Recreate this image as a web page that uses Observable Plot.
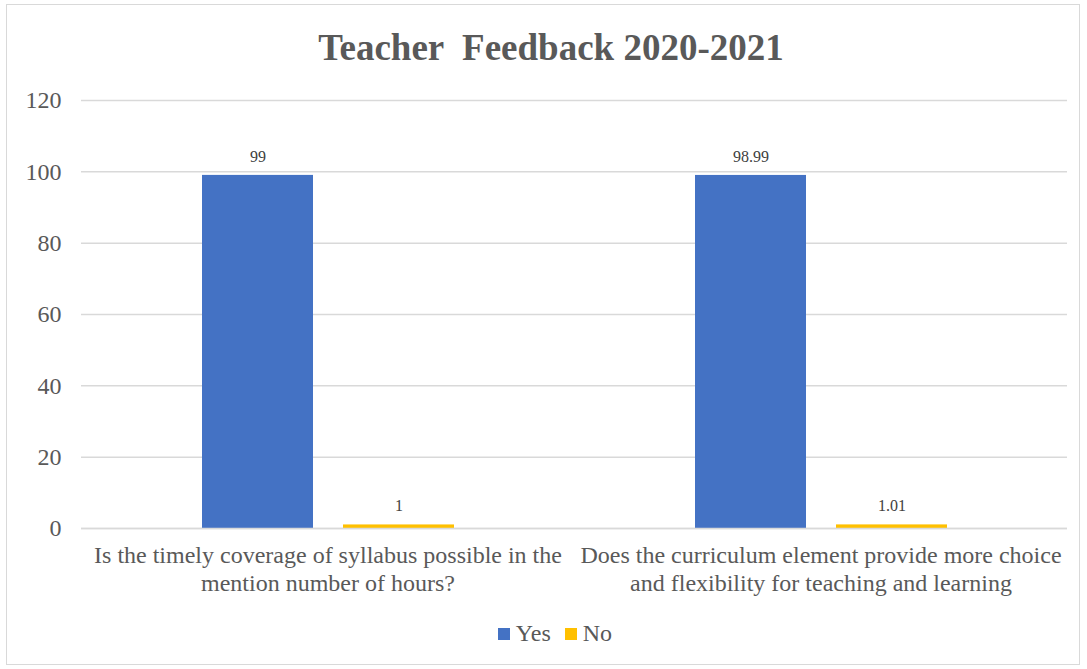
<!DOCTYPE html>
<html>
<head>
<meta charset="utf-8">
<script src="https://cdn.jsdelivr.net/npm/d3@7"></script>
<script src="https://cdn.jsdelivr.net/npm/@observablehq/plot@0.6"></script>
<style>
  html, body { margin: 0; padding: 0; background: #fff; }
  #wrap { position: relative; width: 1087px; height: 669px; overflow: hidden; font-family: "Liberation Serif", "Times New Roman", serif; }
  #border { position: absolute; left: 6px; top: 4px; width: 1072px; height: 659px; border: 1.5px solid #d9d9d9; }
  #title { position: absolute; left: 0; width: 1102px; top: 26px; text-align: center; font-weight: bold; font-size: 37px; color: #595959; white-space: pre; }
  #chart { position: absolute; left: 0; top: 0; }
  #legend { position: absolute; left: 0; width: 1110px; top: 620px; text-align: center; font-size: 24px; color: #595959; white-space: nowrap; }
  #legend span.sw { display: inline-block; width: 12px; height: 12px; margin-right: 6px; vertical-align: 1px; }
  #legend span.it { margin: 0 7px; }
</style>
</head>
<body>
<div id="wrap">
  <div id="border"></div>
  <div id="chart"></div>
  <div id="title">Teacher  Feedback 2020-2021</div>
  <div id="legend"></div>
</div>
<script>
const questions = [
  "Is the timely coverage of syllabus possible in the\nmention number of hours?",
  "Does the curriculum element provide more choice\nand flexibility for teaching and learning"
];
const seriesNames = ["Yes", "No"];
const yesValues = [99, 98.99];
const noValues = [1, 1.01];
const yesLabels = ["99", "98.99"];
const noLabels = ["1", "1.01"];
const colors = ["#4472C4", "#FFC000"];
const yTicks = [0, 20, 40, 60, 80, 100, 120];

const data = [];
questions.forEach((q, i) => {
  data.push({q, s: "Yes", v: yesValues[i], label: yesLabels[i]});
  data.push({q, s: "No", v: noValues[i], label: noLabels[i]});
});

const chart = Plot.plot({
  width: 1087,
  height: 610,
  marginTop: 100,
  marginBottom: 82,
  marginLeft: 81,
  marginRight: 20,
  style: { fontFamily: "'Liberation Serif', 'Times New Roman', serif", color: "#595959", background: "transparent", overflow: "visible" },
  fx: { domain: questions, padding: 0, label: null, axis: null },
  x: { domain: seriesNames, paddingInner: 0.2128, paddingOuter: 0.8546, axis: null },
  y: { domain: [0, 120], ticks: yTicks, label: null },
  color: { domain: seriesNames, range: colors },
  marks: [
    Plot.gridY(yTicks, { stroke: "#d9d9d9", strokeOpacity: 1, strokeWidth: 1.5 }),
    Plot.axisY(yTicks, { tickSize: 0, tickPadding: 20, fontSize: 24, fill: "#595959", label: null }),
    Plot.axisFx({ anchor: "bottom", tickSize: 0, tickPadding: 15, fontSize: 24, fill: "#595959", label: null, lineHeight: 1.15 }),
    Plot.barY(data, { fx: "q", x: "s", y: "v", fill: "s" }),
    Plot.ruleY([0], { stroke: "#d9d9d9", strokeWidth: 1.5 }),
    Plot.text(data, { fx: "q", x: "s", y: "v", text: "label", dy: -19, fontSize: 16, fill: "#404040" })
  ]
});
document.getElementById("chart").appendChild(chart);

const legend = document.getElementById("legend");
seriesNames.forEach((s, i) => {
  const it = document.createElement("span");
  it.className = "it";
  const sw = document.createElement("span");
  sw.className = "sw";
  sw.style.background = colors[i];
  it.appendChild(sw);
  it.appendChild(document.createTextNode(s));
  legend.appendChild(it);
});
</script>
</body>
</html>
